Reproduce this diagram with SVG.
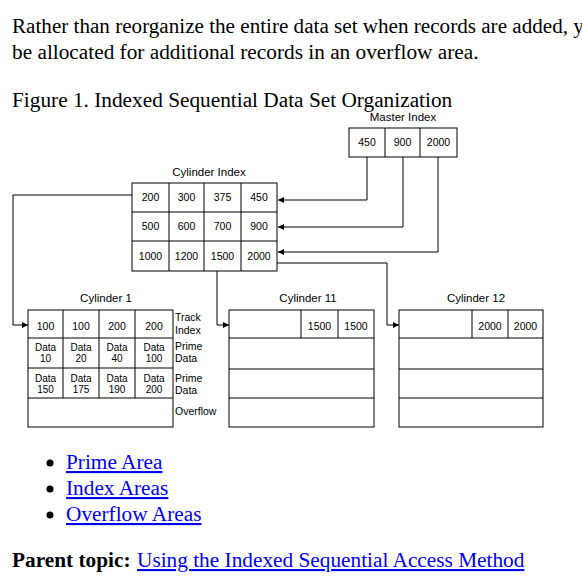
<svg xmlns="http://www.w3.org/2000/svg" width="582" height="584" viewBox="0 0 582 584">
<style>
.body{font-family:"Liberation Serif","Times New Roman",serif;font-size:21.3px;fill:#000}
.link{font-family:"Liberation Serif","Times New Roman",serif;font-size:21.3px;fill:#0000EE;text-decoration:underline}
.d{font-family:"Liberation Sans",Arial,sans-serif;font-size:10.5px;fill:#000}
.lb{font-size:11.5px}
.sd{font-size:10.5px}
.sm{font-size:10px}
.c{text-anchor:middle}
.box{fill:#fff;stroke:#000;stroke-width:1}
.ln{fill:none;stroke:#000;stroke-width:1}
.conn{fill:none;stroke:#000;stroke-width:1;marker-end:url(#ah)}
</style>
<defs>
<marker id="ah" markerWidth="7" markerHeight="6" refX="6" refY="3" orient="auto" markerUnits="userSpaceOnUse">
<path d="M0,0 L6,3 L0,6 Z" fill="#000"/>
</marker>
</defs>
<rect width="582" height="584" fill="#fff"/>
<text class="body" x="12" y="33"><tspan textLength="556" lengthAdjust="spacingAndGlyphs">Rather than reorganize the entire data set when records are added,</tspan> you can specify that space</text>
<text class="body" x="12" y="59">be allocated for additional records in an overflow area.</text>
<text class="body" x="12" y="107">Figure 1. Indexed Sequential Data Set Organization</text>

<g id="master-index">
<text class="d lb c" x="403" y="121">Master Index</text>
<rect class="box" x="349" y="128" width="108" height="29"/>
<path class="ln" d="M385,128V157M420,128V157"/>
<text class="d c" x="367" y="146">450</text>
<text class="d c" x="402.5" y="146">900</text>
<text class="d c" x="438.5" y="146">2000</text>
</g>

<g id="cylinder-index">
<text class="d lb c" x="209" y="176">Cylinder Index</text>
<rect class="box" x="132" y="183" width="145" height="88"/>
<path class="ln" d="M132,212H277M132,241H277M169,183V271M204,183V271M241,183V271"/>
<text class="d c" x="150.5" y="201">200</text>
<text class="d c" x="186.5" y="201">300</text>
<text class="d c" x="222.5" y="201">375</text>
<text class="d c" x="259" y="201">450</text>
<text class="d c" x="150.5" y="230">500</text>
<text class="d c" x="186.5" y="230">600</text>
<text class="d c" x="222.5" y="230">700</text>
<text class="d c" x="259" y="230">900</text>
<text class="d c" x="150.5" y="260">1000</text>
<text class="d c" x="186.5" y="260">1200</text>
<text class="d c" x="222.5" y="260">1500</text>
<text class="d c" x="259" y="260">2000</text>
</g>

<g id="cylinder-1">
<text class="d lb c" x="106" y="302">Cylinder 1</text>
<rect class="box" x="28" y="310" width="145" height="117"/>
<path class="ln" d="M28,338H173M28,368H173M28,398H173M63,310V398M99,310V398M135,310V398"/>
<text class="d c" x="45.5" y="330">100</text>
<text class="d c" x="81" y="330">100</text>
<text class="d c" x="117" y="330">200</text>
<text class="d c" x="154" y="330">200</text>
<text class="d sm c" x="45.5" y="351">Data</text>
<text class="d sm c" x="45.5" y="362">10</text>
<text class="d sm c" x="81" y="351">Data</text>
<text class="d sm c" x="81" y="362">20</text>
<text class="d sm c" x="117" y="351">Data</text>
<text class="d sm c" x="117" y="362">40</text>
<text class="d sm c" x="154" y="351">Data</text>
<text class="d sm c" x="154" y="362">100</text>
<text class="d sm c" x="45.5" y="382">Data</text>
<text class="d sm c" x="45.5" y="393">150</text>
<text class="d sm c" x="81" y="382">Data</text>
<text class="d sm c" x="81" y="393">175</text>
<text class="d sm c" x="117" y="382">Data</text>
<text class="d sm c" x="117" y="393">190</text>
<text class="d sm c" x="154" y="382">Data</text>
<text class="d sm c" x="154" y="393">200</text>
<text class="d sd" x="175" y="321">Track</text>
<text class="d sd" x="175" y="334">Index</text>
<text class="d sd" x="175" y="350">Prime</text>
<text class="d sd" x="175" y="362">Data</text>
<text class="d sd" x="175" y="382">Prime</text>
<text class="d sd" x="175" y="394">Data</text>
<text class="d sd" x="175" y="415">Overflow</text>
</g>

<g id="cylinder-11">
<text class="d lb c" x="308" y="302">Cylinder 11</text>
<rect class="box" x="229" y="310" width="145" height="117"/>
<path class="ln" d="M229,338H374M229,369H374M229,398H374M301,310V338M338,310V338"/>
<text class="d c" x="319.5" y="330">1500</text>
<text class="d c" x="356" y="330">1500</text>
</g>

<g id="cylinder-12">
<text class="d lb c" x="476" y="302">Cylinder 12</text>
<rect class="box" x="399" y="310" width="144" height="117"/>
<path class="ln" d="M399,338H543M399,369H543M399,398H543M472,310V338M508,310V338"/>
<text class="d c" x="490" y="330">2000</text>
<text class="d c" x="525.5" y="330">2000</text>
</g>

<g id="connectors">
<path class="conn" d="M367,157V200H278"/>
<path class="conn" d="M403,157V227H278"/>
<path class="conn" d="M438,157V252H278"/>
<path class="conn" d="M132,195H13V325H28"/>
<path class="conn" d="M217,271V325H229"/>
<path class="conn" d="M277,263H387V325H399"/>
</g>

<g id="links">
<circle cx="50" cy="463" r="3.5" fill="#000"/>
<circle cx="50" cy="489" r="3.5" fill="#000"/>
<circle cx="50" cy="515" r="3.5" fill="#000"/>
<text class="link" x="66" y="469">Prime Area</text>
<text class="link" x="66" y="495">Index Areas</text>
<text class="link" x="66" y="521">Overflow Areas</text>
<text class="body" x="12" y="567" font-weight="bold">Parent topic:</text>
<text class="link" x="137" y="567">Using the Indexed Sequential Access Method</text>
</g>
</svg>
